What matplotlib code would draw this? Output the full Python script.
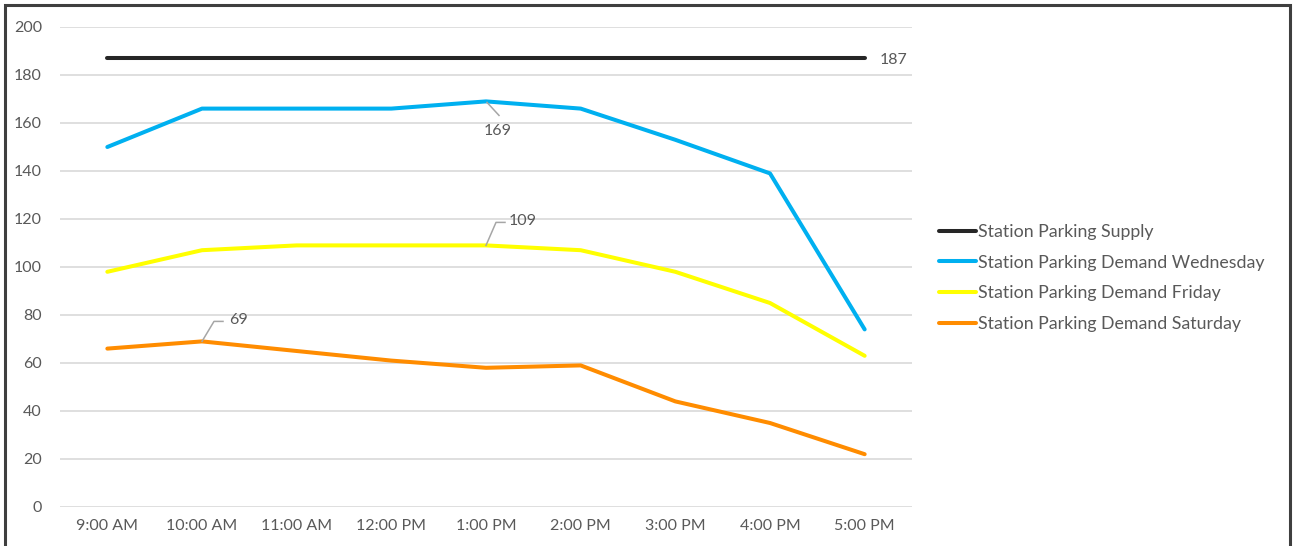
import matplotlib
matplotlib.use("Agg")
import matplotlib.pyplot as plt
from matplotlib.patches import Rectangle
from matplotlib.transforms import offset_copy

plt.rcParams['font.family'] = ['Lato', 'DejaVu Sans']

times = ["9:00 AM", "10:00 AM", "11:00 AM", "12:00 PM", "1:00 PM",
         "2:00 PM", "3:00 PM", "4:00 PM", "5:00 PM"]
supply = [187, 187, 187, 187, 187, 187, 187, 187, 187]
wednesday = [150, 166, 166, 166, 169, 166, 153, 139, 74]
friday = [98, 107, 109, 109, 109, 107, 98, 85, 63]
saturday = [66, 69, 65, 61, 58, 59, 44, 35, 22]
y_ticks = [0, 20, 40, 60, 80, 100, 120, 140, 160, 180, 200]

series = [
    ("Station Parking Supply", supply, "#262626"),
    ("Station Parking Demand Wednesday", wednesday, "#00B0F0"),
    ("Station Parking Demand Friday", friday, "#FFFF00"),
    ("Station Parking Demand Saturday", saturday, "#FF8C00"),
]

text_color = "#595959"
leader_color = "#A6A6A6"

W, H = 1293, 546
fig = plt.figure(figsize=(W / 100, H / 100), dpi=100)
ax = fig.add_axes([60 / W, (H - 507) / H, (912 - 60) / W, (507 - 27) / H])

x = list(range(len(times)))
for name, vals, color in series:
    ax.plot(x, vals, color=color, lw=2.9, label=name, solid_capstyle="round",
            solid_joinstyle="round", zorder=3)

ax.set_xlim(-0.5, len(times) - 0.5)
ax.set_ylim(0, 200)
ax.set_yticks(y_ticks)
ax.set_xticks(x)
ax.set_xticklabels(times)
ax.tick_params(axis="both", length=0, labelsize=11.5, labelcolor=text_color)
ax.tick_params(axis="y", pad=13)
ax.tick_params(axis="x", pad=9)
ax.grid(axis="y", color="#D9D9D9", lw=1.2, zorder=0)
ax.set_axisbelow(True)
for s in ax.spines.values():
    s.set_visible(False)


def px(v):
    # pixel offsets expressed in points for the figure dpi
    return v * 72 / fig.dpi


def label_with_leader(xi, yi, path_px, text, text_px, ha="left", va="center"):
    if path_px:
        pts = [offset_copy(ax.transData, fig=fig, x=px(dx), y=px(dy), units="points")
               .transform((xi, yi)) for dx, dy in path_px]
        inv = fig.transFigure.inverted()
        fpts = [inv.transform(p) for p in pts]
        fig.add_artist(plt.Line2D([p[0] for p in fpts], [p[1] for p in fpts],
                                  transform=fig.transFigure, color=leader_color, lw=1.1))
    ax.annotate(text, (xi, yi), xytext=(px(text_px[0]), px(text_px[1])),
                textcoords="offset points", ha=ha, va=va, fontsize=11.5,
                color=text_color, zorder=5)


label_with_leader(8, supply[8], [], "187", (15, -1.5))
label_with_leader(4, wednesday[4], [(1, -1), (13, -14)], "169", (12, -30), ha="center")
label_with_leader(4, friday[4], [(0, 0), (10, 23), (19, 23)], "109", (23, 24))
label_with_leader(1, saturday[1], [(0, 0), (12, 20), (21, 20)], "69", (27, 21))

leg = fig.legend(loc="upper left", bbox_to_anchor=(939 / W, 1 - 224 / H),
                 frameon=False, fontsize=12.8, handlelength=2.1, handletextpad=0.12,
                 labelspacing=0.82, borderaxespad=0, borderpad=0)
for t in leg.get_texts():
    t.set_color(text_color)

fig.add_artist(Rectangle((4.5 / W, -0.02), (1290 - 4.5) / W, 1 - 5.5 / H + 0.02,
                         transform=fig.transFigure, fill=False,
                         edgecolor="#3F3F3F", lw=2.2))

fig.savefig("out.png", dpi=100)
